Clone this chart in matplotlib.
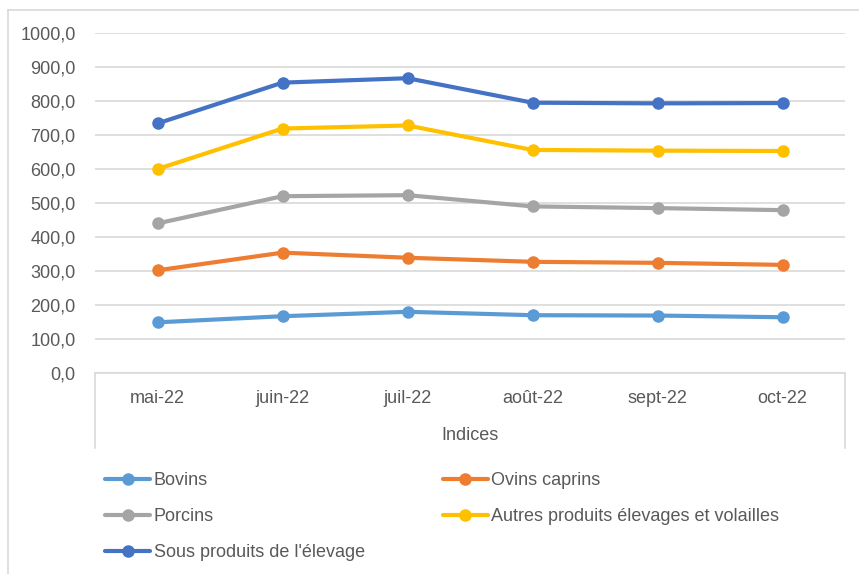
import matplotlib
matplotlib.use("Agg")
import matplotlib.pyplot as plt
from matplotlib.lines import Line2D
from matplotlib.transforms import blended_transform_factory

# data
months = ["mai-22", "juin-22", "juil-22", "août-22", "sept-22", "oct-22"]
bovins = [149, 167, 180, 170, 169, 164]
ovins_caprins = [302, 354, 339, 327, 324, 318]
porcins = [440, 520, 523, 490, 485, 479]
autres = [600, 719, 728, 656, 654, 653]
sous_produits = [734, 854, 867, 795, 793, 794]

series = [
    ("Bovins", bovins, "#5B9BD5"),
    ("Ovins caprins", ovins_caprins, "#ED7D31"),
    ("Porcins", porcins, "#A5A5A5"),
    ("Autres produits élevages et volailles", autres, "#FFC000"),
    ("Sous produits de l'élevage", sous_produits, "#4472C4"),
]
y_ticks = list(range(0, 1001, 100))

W, H = 859, 574
txt = "#595959"
grid = "#D9D9D9"
plt.rcParams['font.family'] = ['Liberation Sans', 'DejaVu Sans']

fig = plt.figure(figsize=(W / 100, H / 100), dpi=100)
ax = fig.add_axes([95 / W, 1 - 373 / H, 750 / W, 340 / H])

x = list(range(len(months)))
lines = {}
for name, vals, col in series:
    ln, = ax.plot(x, vals, color=col, lw=3, marker='o', markersize=8,
                  solid_capstyle='round', label=name, zorder=3)
    lines[name] = ln

ax.set_xlim(-0.5, len(months) - 0.5)
ax.set_ylim(0, 1000)
ax.set_yticks(y_ticks)
ax.set_yticklabels([f"{v},0" for v in y_ticks])
ax.set_xticks(x)
ax.set_xticklabels(months)
ax.tick_params(axis='both', length=0, labelsize=13, colors=txt)
ax.tick_params(axis='y', pad=14)
ax.tick_params(axis='x', pad=12)
ax.grid(axis='y', color=grid, lw=1.2)
ax.set_axisbelow(True)
for s in ['top', 'right', 'left']:
    ax.spines[s].set_visible(False)
ax.spines['bottom'].set_color(grid)
ax.spines['bottom'].set_linewidth(1.2)

# category box edges below the axis
tr = blended_transform_factory(ax.transData, ax.transAxes)
for xe in [-0.5, len(months) - 0.5]:
    ax.plot([xe, xe], [0, -75 / 340], color=grid, lw=1.2, transform=tr, clip_on=False)

fig.text(470 / W, 1 - 436 / H, "Indices", ha='center', va='center', fontsize=13, color=txt)

# outer chart border
fig.add_artist(Line2D([8 / W, 8 / W], [0, 1 - 10 / H], color=grid, lw=1.2))
fig.add_artist(Line2D([8 / W, 1], [1 - 10 / H, 1 - 10 / H], color=grid, lw=1.2))

order = ["Bovins", "Porcins", "Sous produits de l'élevage",
         "Ovins caprins", "Autres produits élevages et volailles"]
leg = fig.legend([lines[n] for n in order], order, ncol=2, loc='upper left',
                 bbox_to_anchor=(96 / W, 1 - 463 / H), frameon=False,
                 handlelength=2.5, handletextpad=0.2,
                 columnspacing=4.3, labelspacing=1.05, borderpad=0,
                 prop={'family': ['Liberation Sans', 'DejaVu Sans'], 'size': 13})
for t in leg.get_texts():
    t.set_color(txt)

fig.savefig("out.png", dpi=100)
